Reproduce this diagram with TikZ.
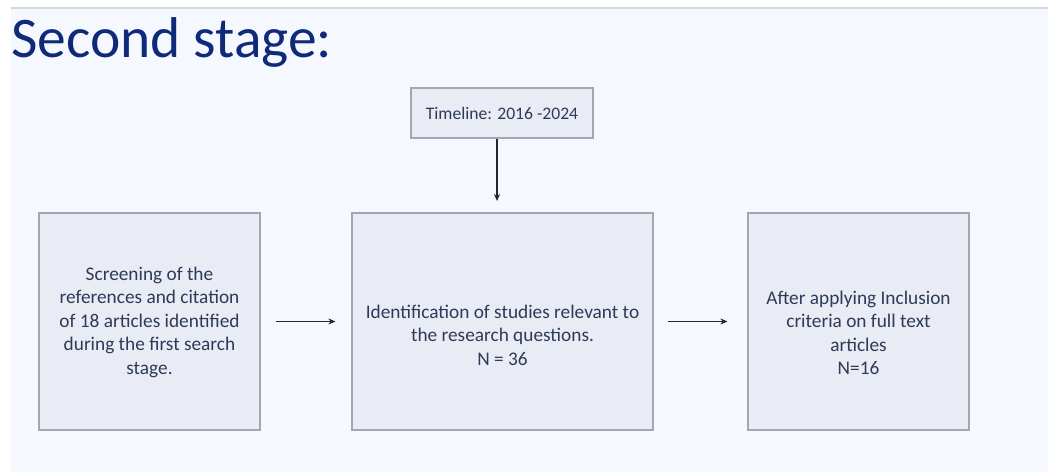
\documentclass[tikz,border=0pt]{standalone}
\usepackage{fontspec}
\setmainfont{Carlito}
\usetikzlibrary{arrows.meta}
\definecolor{panel}{HTML}{F5F8FE}
\definecolor{boxfill}{HTML}{E9ECF5}
\definecolor{boxline}{HTML}{A3A7AF}
\definecolor{txt}{HTML}{2E3A58}
\definecolor{titlec}{HTML}{0F2A78}
\definecolor{topline}{HTML}{D4D7DD}
\tikzset{
  stagebox/.style={draw=boxline, line width=1.2pt, fill=boxfill, inner sep=0pt},
  stagetext/.style={text=txt, align=center, inner sep=0pt, font=\fontsize{19.3}{23.5}\selectfont},
  flowarrow/.style={draw=black!85, line width=1.1pt, -{Stealth[length=7pt,width=6pt]}}
}
\begin{document}
\begin{tikzpicture}[x=1pt,y=-1pt]
\useasboundingbox (0,0) rectangle (1050,472);
\fill[white] (0,0) rectangle (1050,472);
\fill[panel] (11,8) rectangle (1048,472);
\draw[topline, line width=1.2pt] (11,8) -- (1048,8);
\node[anchor=base west, text=titlec, font=\fontsize{57.5}{62}\selectfont, inner sep=0pt] (title) at (11,57) {Second stage:};
\node[stagebox, minimum width=182pt, minimum height=50pt] (time) at (502,113) {};
\node[stagetext, font=\fontsize{17.6}{21}\selectfont] (timet) at (502,113) {Timeline: 2016 -2024};
\node[stagebox, minimum width=221pt, minimum height=217pt] (screen) at (149.5,321.5) {};
\node[stagetext] (screent) at (149.5,322)
  {Screening of the\\references and citation\\of 18 articles identified\\during the first search\\stage.};
\node[stagebox, minimum width=301pt, minimum height=217pt] (ident) at (502.5,321.5) {};
\node[stagetext] (identt) at (502.5,335)
  {Identification of studies relevant to\\the research questions.\\N = 36};
\node[stagebox, minimum width=221pt, minimum height=217pt] (after) at (858.5,321.5) {};
\node[stagetext] (aftert) at (858.5,333)
  {After applying Inclusion\\criteria on full text\\articles\\N=16};
\coordinate (tdown) at (497,201);
\draw[flowarrow] (time.south -| tdown) -- (tdown);
\draw[flowarrow] ([xshift=15pt]screen.east) -- ([xshift=-16pt]ident.west);
\draw[flowarrow] ([xshift=14pt]ident.east) -- ([xshift=-20pt]after.west);
\end{tikzpicture}
\end{document}
